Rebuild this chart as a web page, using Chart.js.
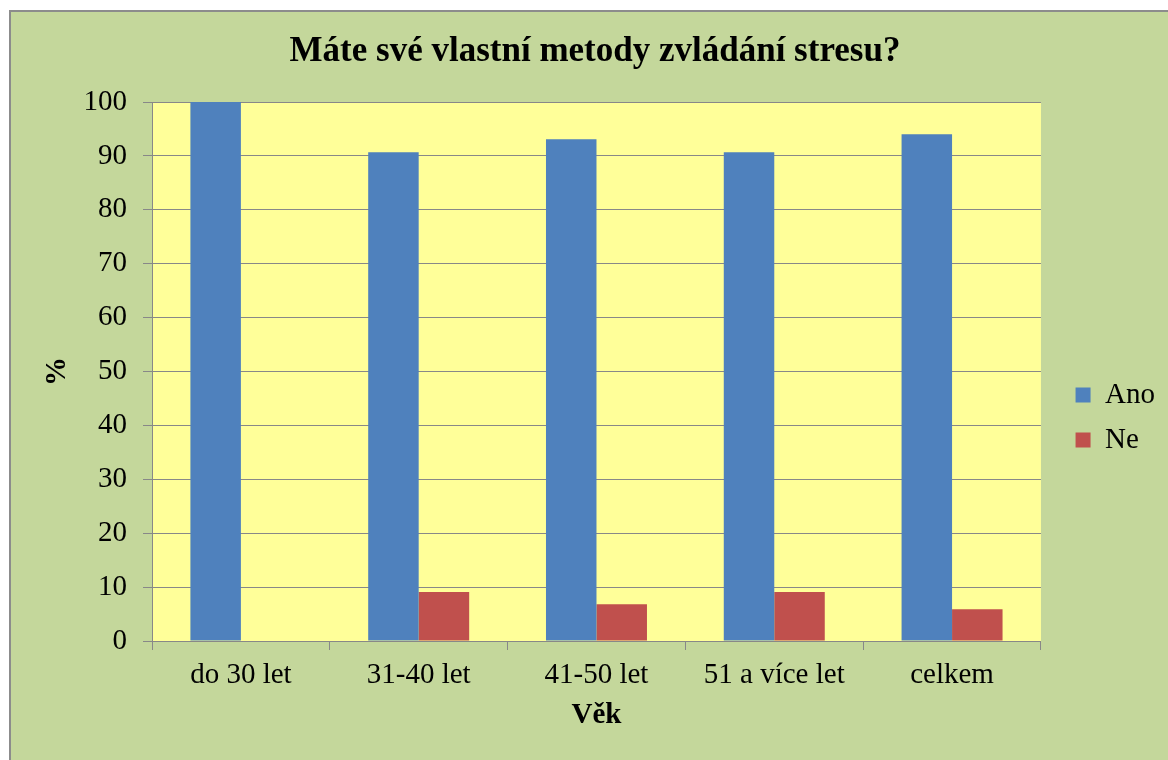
<!DOCTYPE html>
<html>
<head>
<meta charset="utf-8">
<script src="https://cdn.jsdelivr.net/npm/chart.js@4"></script>
<style>
body{margin:0;background:#fff}
#wrap{position:absolute;left:0;top:0;width:1168px;height:760px}
</style>
</head>
<body>
<div id="wrap"><canvas id="chart" width="1168" height="760"></canvas></div>
<script>
const categories=["do 30 let","31-40 let","41-50 let","51 a více let","celkem"]
const ano=[100,90.7,93.1,90.7,94.0]
const ne=[0,9.1,6.8,9.1,5.9]
const yTicks=[0,10,20,30,40,50,60,70,80,90,100]

const serif="'Liberation Serif', 'Times New Roman', serif"

// page + plot backgrounds
const backgrounds={
id:"backgrounds",
beforeDraw(chart){
const ctx=chart.ctx
const a=chart.chartArea
ctx.save()
ctx.fillStyle="#ffffff"
ctx.fillRect(0,0,chart.width,chart.height)
ctx.fillStyle="#c4d79b"
ctx.fillRect(10,11,chart.width-10,chart.height-11)
ctx.strokeStyle="#8c8c8c"
ctx.lineWidth=2
ctx.beginPath()
ctx.moveTo(10,chart.height)
ctx.lineTo(10,11)
ctx.lineTo(chart.width,11)
ctx.stroke()
ctx.fillStyle="#ffff99"
ctx.fillRect(a.left,a.top,a.right-a.left,a.bottom-a.top)
ctx.restore()
}
}

const ctx=document.getElementById("chart").getContext("2d")

new Chart(ctx,{
type:"bar",
data:{
labels:categories,
datasets:[
{label:"Ano",data:ano,backgroundColor:"#4f81bd"},
{label:"Ne",data:ne,backgroundColor:"#c0504d"}
]
},
options:{
responsive:false,
animation:false,
layout:{padding:{left:25,right:3,top:0,bottom:0}},
datasets:{bar:{categoryPercentage:0.568,barPercentage:1}},
plugins:{
title:{
display:true,
text:"Máte své vlastní metody zvládání stresu?",
color:"#000",
font:{family:serif,size:35,weight:"bold"},
padding:{top:31,bottom:29}
},
legend:{
position:"right",
title:{display:true,text:"",font:{size:10},padding:{top:63,bottom:0}},
labels:{
color:"#000",
font:{family:serif,size:29},
boxWidth:15,
boxHeight:15,
padding:16
}
},
tooltip:{enabled:false}
},
scales:{
x:{
grid:{display:true,drawOnChartArea:false,drawTicks:true,tickLength:9,color:"#888888"},
border:{display:true,color:"#888888",width:1},
ticks:{color:"#000",font:{family:serif,size:29},padding:8,maxRotation:0},
title:{display:true,text:"Věk",color:"#000",font:{family:serif,size:29,weight:"bold"},padding:{top:0,bottom:27}},
afterFit(s){s.height=119}
},
y:{
min:0,
max:100,
afterBuildTicks(s){s.ticks=yTicks.map(v=>({value:v}))},
grid:{color:"#888888",tickLength:9},
border:{display:true,color:"#888888",width:1},
ticks:{color:"#000",font:{family:serif,size:29},padding:16},
title:{display:true,text:"%",color:"#000",font:{family:serif,size:29,weight:"bold"},padding:{top:15,bottom:0}},
afterFit(s){s.width=127}
},
yRight:{
type:"linear",
position:"right",
display:true,
grid:{display:false},
border:{display:false},
ticks:{display:false},
afterFit(s){s.width=18.6}
}
}
},
plugins:[backgrounds]
})
</script>
</body>
</html>
